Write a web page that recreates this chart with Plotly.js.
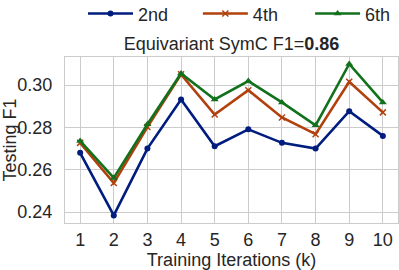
<!DOCTYPE html>
<html>
<head>
<meta charset="utf-8">
<script src="https://cdn.plot.ly/plotly-3.0.1.min.js"></script>
<style>html,body{margin:0;padding:0;background:#fff;}#chart{width:399px;height:270px;}</style>
</head>
<body>
<div id="chart"></div>
<script>
const iterations = [1, 2, 3, 4, 5, 6, 7, 8, 9, 10];
const series2nd = [0.268, 0.2384, 0.270, 0.2932, 0.2711, 0.2791, 0.2727, 0.2700, 0.2877, 0.2760];
const series4th = [0.2727, 0.2537, 0.2802, 0.3051, 0.2861, 0.2976, 0.2847, 0.2768, 0.3016, 0.2871];
const series6th = [0.2736, 0.2561, 0.2815, 0.3055, 0.2932, 0.3019, 0.2918, 0.2810, 0.3100, 0.2918];
const seriesNames = ["2nd", "4th", "6th"];
const yTicks = [0.24, 0.26, 0.28, 0.30];

const colors = ["#001c7f", "#b1400d", "#12711c"];
const font = "Liberation Sans, Arial, sans-serif";
const txt = "#262626";
const fs = 18;

const traces = [
  {x: iterations, y: series2nd, name: seriesNames[0], mode: "lines+markers", legend: "legend",
   line: {color: colors[0], width: 2.6}, marker: {symbol: "circle", size: 6, color: colors[0]}},
  {x: iterations, y: series4th, name: seriesNames[1], mode: "lines+markers", legend: "legend2",
   line: {color: colors[1], width: 2.6}, marker: {symbol: "x-thin-open", size: 6, color: colors[1], line: {color: colors[1], width: 1.5}}},
  {x: iterations, y: series6th, name: seriesNames[2], mode: "lines+markers", legend: "legend3",
   line: {color: colors[2], width: 2.6}, marker: {symbol: "triangle-up", size: 7, color: colors[2]}}
];

function leg(x) {
  return {orientation: "h", x: x, xanchor: "left", y: 1.26, yanchor: "middle", itemwidth: 45,
          font: {family: font, size: fs, color: txt}, bgcolor: "rgba(0,0,0,0)"};
}

const layout = {
  width: 399, height: 270,
  margin: {l: 65, r: 1, t: 57, b: 47, autoexpand: false},
  paper_bgcolor: "#fff", plot_bgcolor: "#fff",
  font: {family: font, size: fs, color: txt},
  title: {text: "Equivariant SymC F1=<b>0.86</b>", font: {family: font, size: fs, color: txt},
          x: 0.5, xref: "paper", xanchor: "center", y: 0.837, yref: "container", yanchor: "middle"},
  showlegend: true,
  legend: leg(0.054),
  legend2: leg(0.399),
  legend3: leg(0.736),
  xaxis: {range: [0.55, 10.45], tickvals: iterations, ticktext: iterations.map(String),
          showgrid: true, gridcolor: "#cccccc", gridwidth: 1, zeroline: false,
          showline: true, linecolor: "#cccccc", linewidth: 1, mirror: true, ticks: "",
          tickfont: {family: font, size: fs, color: txt}, ticklabelstandoff: 0,
          title: {text: "Training Iterations (k)", font: {family: font, size: fs, color: txt}, standoff: 1}},
  yaxis: {range: [0.2348, 0.3133], tickvals: yTicks, ticktext: yTicks.map(v => v.toFixed(2)),
          showgrid: true, gridcolor: "#cccccc", gridwidth: 1, zeroline: false,
          showline: true, linecolor: "#cccccc", linewidth: 1, mirror: true, ticks: "",
          tickfont: {family: font, size: fs, color: txt}, ticklabelstandoff: 8,
          title: {text: "Testing F1", font: {family: font, size: fs, color: txt}, standoff: 4}}
};

Plotly.newPlot("chart", traces, layout, {displayModeBar: false, staticPlot: true});
</script>
</body>
</html>
